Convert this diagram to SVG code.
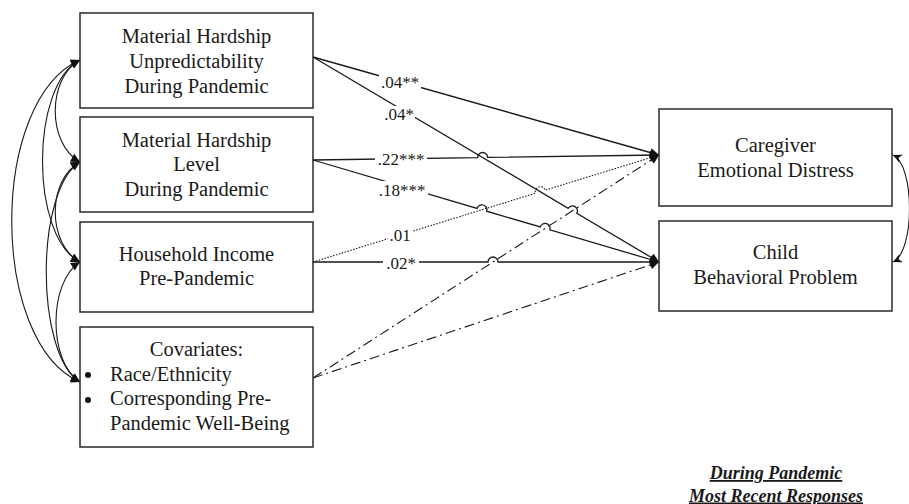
<svg xmlns="http://www.w3.org/2000/svg" width="909" height="504" viewBox="0 0 909 504" font-family="Liberation Serif, serif">
<style>
.box{fill:#fff;stroke:#2a2a2a;stroke-width:1.5}
text{fill:#1a1a1a}
.t{font-size:20.5px;text-anchor:middle}
.tl{font-size:20.5px}
.lab{font-size:17px;text-anchor:middle}
.ln{fill:none;stroke:#1a1a1a;stroke-width:1.3}
.dot{stroke-dasharray:1.5 1.5;stroke-width:1.1}
.dd{stroke-dasharray:10 4 2 4;stroke-width:1.1}
.cv{fill:none;stroke:#1a1a1a;stroke-width:1.1}
.note{font-size:18px;font-weight:bold;font-style:italic;text-anchor:middle;text-decoration:underline}
</style>
<defs>
<marker id="ah" viewBox="0 0 10 10" refX="10" refY="5" markerWidth="11" markerHeight="9" markerUnits="userSpaceOnUse" orient="auto-start-reverse">
<path d="M0,0 L10,5 L0,10 z" fill="#111"/>
</marker>
<marker id="ah2" viewBox="0 0 10 10" refX="10" refY="5" markerWidth="10" markerHeight="9" markerUnits="userSpaceOnUse" orient="auto-start-reverse">
<path d="M0,0 L10,5 L0,10 L3,5 z" fill="#111"/>
</marker>
</defs>
<rect width="909" height="504" fill="#fff"/>

<g id="connectors">
<path class="cv" d="M80,60 C47,78 47,144 80,162" marker-start="url(#ah)" marker-end="url(#ah)"/>
<path class="cv" d="M80,162 C47,180 47,244 80,262" marker-start="url(#ah)" marker-end="url(#ah)"/>
<path class="cv" d="M80,262 C48,282 48,362 80,382" marker-start="url(#ah)" marker-end="url(#ah)"/>
<path class="cv" d="M80,60 C30,85 30,237 80,262" marker-start="url(#ah)" marker-end="url(#ah)"/>
<path class="cv" d="M80,162 C35,190 35,354 80,382" marker-start="url(#ah)" marker-end="url(#ah)"/>
<path class="cv" d="M80,60 C-11,100 -11,342 80,382" marker-start="url(#ah)" marker-end="url(#ah)"/>
<path class="cv" d="M893,155 C915,165 915,252 893,262" marker-start="url(#ah2)" marker-end="url(#ah2)"/>
<path class="ln" d="M313,57 L659,155" marker-end="url(#ah)"/>
<path class="ln" d="M313,57 L568.2,208.25 A5,5 0 0 1 576.8,213.35 L659,262" marker-end="url(#ah)"/>
<path class="ln" d="M313,160 L477.7,157.57 A5,5 0 0 1 487.7,157.43 L659,155" marker-end="url(#ah)"/>
<path class="ln" d="M313,160 L477.1,208.39 A5,5 0 0 1 486.7,211.21 L540.3,226.99 A5,5 0 0 1 549.9,229.81 L659,262" marker-end="url(#ah)"/>
<path class="ln dot" d="M313,262 L535.52,193.18 A5,5 0 0 1 545.08,190.22 L659,155" marker-end="url(#ah)"/>
<path class="ln" d="M313,262 L488,262 A5,5 0 0 1 498,262 L659,262" marker-end="url(#ah)"/>
<path class="ln dd" d="M313,378 L659,155" marker-end="url(#ah)"/>
<path class="ln dd" d="M313,378 L659,262" marker-end="url(#ah)"/>
<g>
<rect x="379" y="74" width="42" height="16" fill="#fff"/>
<text class="lab" x="400" y="87.5">.04**</text>
<rect x="383" y="106" width="32" height="16" fill="#fff"/>
<text class="lab" x="399" y="120">.04*</text>
<rect x="375" y="151" width="52" height="16" fill="#fff"/>
<text class="lab" x="401" y="165">.22***</text>
<rect x="376" y="181" width="52" height="16" fill="#fff"/>
<text class="lab" x="402" y="195.5">.18***</text>
<rect x="388" y="226" width="24" height="16" fill="#fff"/>
<text class="lab" x="400" y="240.5">.01</text>
<rect x="383" y="255" width="36" height="16" fill="#fff"/>
<text class="lab" x="401" y="269">.02*</text>
</g>
</g>

<g id="n_unpred">
<rect class="box" x="80" y="13" width="233" height="95"/>
<text class="t" x="196.5" y="43.3">Material Hardship</text>
<text class="t" x="196.5" y="68">Unpredictability</text>
<text class="t" x="196.5" y="92.7">During Pandemic</text>
</g>
<g id="n_level">
<rect class="box" x="80" y="117" width="233" height="95"/>
<text class="t" x="196.5" y="146.5">Material Hardship</text>
<text class="t" x="196.5" y="171">Level</text>
<text class="t" x="196.5" y="195.5">During Pandemic</text>
</g>
<g id="n_income">
<rect class="box" x="80" y="222" width="233" height="90"/>
<text class="t" x="196.5" y="260.5">Household Income</text>
<text class="t" x="196.5" y="285">Pre-Pandemic</text>
</g>
<g id="n_cov">
<rect class="box" x="80" y="327" width="233" height="120"/>
<text class="t" x="196.5" y="356">Covariates:</text>
<circle cx="88" cy="375" r="3" fill="#111"/>
<text class="tl" x="110" y="380.5">Race/Ethnicity</text>
<circle cx="88" cy="400" r="3" fill="#111"/>
<text class="tl" x="110" y="405">Corresponding Pre-</text>
<text class="tl" x="110" y="429.5">Pandemic Well-Being</text>
</g>
<g id="n_caregiver">
<rect class="box" x="659" y="109" width="233" height="97"/>
<text class="t" x="775.5" y="151.7">Caregiver</text>
<text class="t" x="775.5" y="176.5">Emotional Distress</text>
</g>
<g id="n_child">
<rect class="box" x="659" y="221" width="233" height="90"/>
<text class="t" x="775.5" y="259.3">Child</text>
<text class="t" x="775.5" y="284">Behavioral Problem</text>
</g>
<g id="note">
<text class="note" x="776" y="479">During Pandemic</text>
<text class="note" x="776" y="501.5">Most Recent Responses</text>
</g>
</svg>
